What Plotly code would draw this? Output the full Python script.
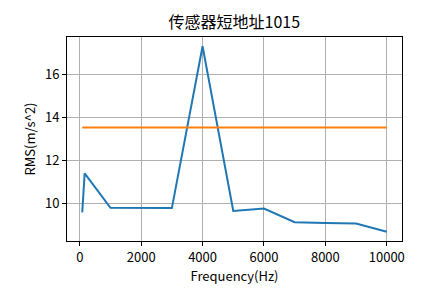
import plotly.graph_objects as go

freq = [80, 160, 1000, 2000, 3000, 4000, 5000, 6000, 7000, 8000, 9000, 10000]
rms = [9.60, 11.42, 9.81, 9.79, 9.80, 17.33, 9.67, 9.78, 9.14, 9.11, 9.08, 8.70]
threshold = 13.55
threshold_x = [80, 10000]
threshold_y = [threshold, threshold]
x_ticks = [0, 2000, 4000, 6000, 8000, 10000]
y_ticks = [10, 12, 14, 16]

font = "Noto Sans CJK SC"

xmin, xmax = min(freq), max(freq)
ymin, ymax = min(rms + threshold_y), max(rms + threshold_y)
xr = [xmin - 0.05 * (xmax - xmin), xmax + 0.05 * (xmax - xmin)]
yr = [ymin - 0.05 * (ymax - ymin), ymax + 0.05 * (ymax - ymin)]

fig = go.Figure()
fig.add_trace(go.Scatter(x=freq, y=rms, mode="lines",
                         line=dict(color="#1f77b4", width=2)))
fig.add_trace(go.Scatter(x=threshold_x, y=threshold_y, mode="lines",
                         line=dict(color="#ff7f0e", width=2)))

axis_common = dict(showline=True, linecolor="black", linewidth=1, mirror=True,
                   showgrid=True, gridcolor="#b0b0b0", gridwidth=0.8,
                   ticks="outside", ticklen=4, tickcolor="black", tickwidth=1,
                   zeroline=False, tickfont=dict(family=font, size=13, color="black"))

fig.update_layout(
    width=445, height=301,
    margin=dict(l=67, r=43, t=37, b=60),
    paper_bgcolor="white", plot_bgcolor="white",
    showlegend=False,
    title=dict(text="传感器短地址1015", x=(67 + 401.7) / 2 / 445, xanchor="center",
               y=1 - 22 / 301, yanchor="middle",
               font=dict(family=font, size=16, color="black")),
    xaxis=dict(range=xr, tickvals=x_ticks, ticktext=[str(v) for v in x_ticks],
               title=dict(text="Frequency(Hz)", font=dict(family=font, size=13, color="black"),
                          standoff=6),
               **axis_common),
    yaxis=dict(range=yr, tickvals=y_ticks, ticktext=[str(v) for v in y_ticks],
               title=dict(text="RMS(m/s^2)", font=dict(family=font, size=13, color="black"),
                          standoff=6),
               **axis_common),
)

fig.write_html("out.html")
